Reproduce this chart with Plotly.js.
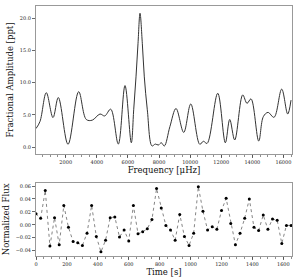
<!DOCTYPE html>
<html>
<head>
<meta charset="utf-8">
<script src="https://cdn.plot.ly/plotly-3.0.1.min.js"></script>
<style>
html,body{margin:0;padding:0;background:#fff;}
#chart{width:298px;height:279px;}
</style>
</head>
<body>
<div id="chart"></div>
<script>
// Amplitude spectrum
const freq = [90, 347, 752, 1183, 1525, 2148, 2834, 3325, 3711, 4205, 4508, 4893, 5382, 5813, 6218, 6372, 6521, 6650, 6778, 6926, 7054, 7247, 7550, 7762, 7955, 8148, 8341, 8700, 9093, 9589, 10041, 10620, 10852, 11090, 11776, 12265, 12547, 12868, 13382, 13659, 13916, 14411, 14707, 15009, 15395, 15888, 16274, 16488];
const amp  = [2.9, 4.0, 8.45, 4.6, 7.7, 0.46, 8.6, 4.3, 4.2, 5.15, 4.85, 5.9, 0.5, 9.55, 0.7, 5.8, 10.9, 16.1, 20.75, 16.1, 10.9, 5.8, 0.2, 0.5, 0.35, 0.7, 0.2, 3.2, 6.0, 2.3, 6.7, 0.46, 0.93, 0.6, 8.36, 0.7, 4.3, 1.13, 8.1, 6.8, 7.5, 0.97, 4.74, 5.4, 4.64, 9.0, 5.15, 7.3];

// Light curve
const time = [0, 30, 60, 90, 120, 150, 180, 210, 240, 270, 300, 330, 360, 390, 420, 450, 480, 510, 540, 570, 600, 630, 660, 690, 720, 750, 780, 810, 840, 870, 900, 930, 960, 990, 1020, 1050, 1080, 1110, 1140, 1170, 1200, 1230, 1260, 1290, 1320, 1350, 1380, 1410, 1440, 1470, 1500, 1530, 1560, 1590, 1620, 1650];
const flux = [0.017, 0.010, 0.053, -0.033, 0.011, -0.031, 0.030, -0.004, -0.026, -0.028, -0.032, -0.013, 0.030, -0.018, -0.042, -0.024, 0.011, 0.012, -0.019, -0.008, -0.025, 0.030, -0.014, -0.011, -0.006, 0.008, 0.056, 0.026, -0.001, -0.008, -0.024, 0.016, -0.018, -0.032, -0.013, 0.059, 0.021, -0.008, -0.003, -0.007, 0.022, 0.041, 0.002, -0.031, -0.013, 0.010, 0.040, -0.004, -0.009, 0.015, -0.007, 0.009, 0.007, -0.029, -0.001, -0.001];

const fontFam = "DejaVu Serif, serif";
const tickFont = {family: fontFam, size: 5, color: '#222'};
const titleFont = {family: fontFam, size: 8.5, color: '#111'};

const axisCommon = {
  showline: true, mirror: true, linecolor: '#999', linewidth: 1,
  ticks: 'outside', ticklen: 3, tickwidth: 0.8, tickcolor: '#444',
  showgrid: false, zeroline: false, tickfont: tickFont
};

const traces = [
  {x: freq, y: amp, type: 'scatter', mode: 'lines',
   line: {color: '#333', width: 1, shape: 'spline', smoothing: 1},
   xaxis: 'x', yaxis: 'y', hoverinfo: 'skip'},
  {x: time, y: flux, type: 'scatter', mode: 'lines+markers',
   line: {color: '#666', width: 0.8, dash: 'dot'},
   marker: {color: '#000', size: 3},
   xaxis: 'x2', yaxis: 'y2', cliponaxis: true, hoverinfo: 'skip'}
];

const layout = {
  width: 298, height: 279,
  margin: {l: 36, r: 6, t: 6, b: 23},
  paper_bgcolor: '#fff', plot_bgcolor: '#fff',
  showlegend: false,
  xaxis: Object.assign({}, axisCommon, {
    domain: [0, 1], anchor: 'y', range: [90, 16551],
    tickvals: [2000, 4000, 6000, 8000, 10000, 12000, 14000, 16000], tickformat: 'd',
    minor: {ticks: 'outside', ticklen: 1.5, dtick: 500, tickcolor: '#444', tickwidth: 0.6},
    title: {text: 'Frequency [μHz]', font: titleFont, standoff: 2}
  }),
  yaxis: Object.assign({}, axisCommon, {
    domain: [0.408, 1], anchor: 'x', range: [-1.04, 21.87],
    tickvals: [0, 5, 10, 15, 20], tickformat: '.1f',
    title: {text: 'Fractional Amplitude [ppt]', font: titleFont, standoff: 4}
  }),
  xaxis2: Object.assign({}, axisCommon, {
    domain: [0, 1], anchor: 'y2', range: [0, 1656],
    tickvals: [0, 200, 400, 600, 800, 1000, 1200, 1400, 1600], tickformat: 'd',
    minor: {ticks: 'outside', ticklen: 1.5, dtick: 50, tickcolor: '#444', tickwidth: 0.6},
    title: {text: 'Time [s]', font: titleFont, standoff: 2}
  }),
  yaxis2: Object.assign({}, axisCommon, {
    domain: [0, 0.293], anchor: 'x2', range: [-0.0484, 0.0651],
    tickvals: [-0.04, -0.02, 0, 0.02, 0.04, 0.06], tickformat: '.2f',
    title: {text: 'Normalized Flux', font: titleFont, standoff: 4}
  })
};

Plotly.newPlot('chart', traces, layout, {displayModeBar: false, staticPlot: true});
</script>
</body>
</html>
